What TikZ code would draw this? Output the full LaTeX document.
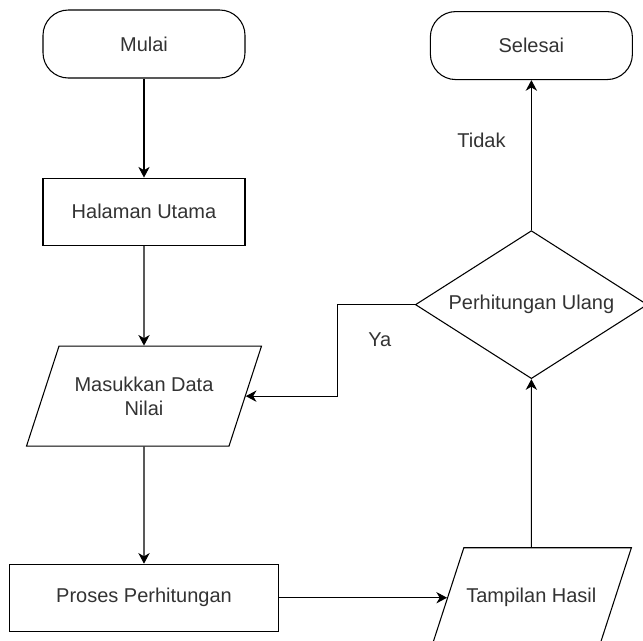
\documentclass[tikz,border=0pt]{standalone}
\usepackage{fontspec}
\setmainfont{Liberation Sans}
\usepackage{tikz}
\usetikzlibrary{positioning, arrows.meta}
\usetikzlibrary{shapes,shapes.geometric}

\newcommand{\isiio}[2]{\parbox[c][75pt][c]{#1}{\centering #2}}

\tikzset{
	kotak/.style={draw, line width=0.8pt, text=black!80, font=\fontsize{15}{18}\selectfont, align=center},
	terminal/.style={kotak, rectangle, rounded corners=19pt, minimum width=151.5pt, minimum height=51pt},
	proses/.style={kotak, rectangle, minimum height=50.25pt},
	io/.style={kotak, trapezium, trapezium left angle=72, trapezium right angle=108, inner sep=0pt},
	keputusan/.style={kotak, diamond, aspect=1.57, inner sep=0pt, minimum width=174pt, minimum height=111pt},
	ket/.style={text=black!80, font=\fontsize{15}{18}\selectfont, inner sep=0pt},
	panah/.style={-{Stealth[length=8pt, width=8.5pt, inset=2.5pt]}, line width=0.8pt},
}

\begin{document}
\begin{tikzpicture}
		\useasboundingbox (0,0) rectangle (482.25pt,-480pt);
		\node[terminal] (mulai) at (108pt,-33pt) {Mulai};
		\node[proses, below=74.25pt of mulai, minimum width=151.5pt] (halaman) {Halaman Utama};
		\node[io, below=75pt of halaman] (masukkan) {\isiio{127.5pt}{Masukkan Data\\Nilai}};
		\node[proses, below=87.75pt of masukkan, minimum width=201.75pt] (hitung) {Proses Perhitungan};
		\node[io, right=126pt of hitung] (tampil) {\isiio{101.3pt}{Tampilan Hasil}};
		\node[keputusan, above=126pt of tampil] (ulang) {Perhitungan Ulang};
		\node[terminal, above=112.5pt of ulang] (selesai) {Selesai};
		\coordinate[left=57.75pt of ulang.west] (belok);
		\node[ket] (ya) at ([shift={(-26.25pt,-26.25pt)}]ulang.west) {Ya};
		
		
		\draw (mulai) edge[panah] (halaman) ;
		\draw (halaman) edge[panah] (masukkan) ;
		\draw (masukkan) edge[panah] (hitung) ;
		\draw (hitung) edge[panah] (tampil) ;
		\draw (tampil) edge[panah] (ulang) ;
		\draw (ulang) edge[panah] node[ket, pos=0.6, left=19pt] (tidak) {Tidak} (selesai) ;
		\draw[panah] (ulang.west) -- (belok) |- (masukkan.east) ;
	\end{tikzpicture}
\end{document}
